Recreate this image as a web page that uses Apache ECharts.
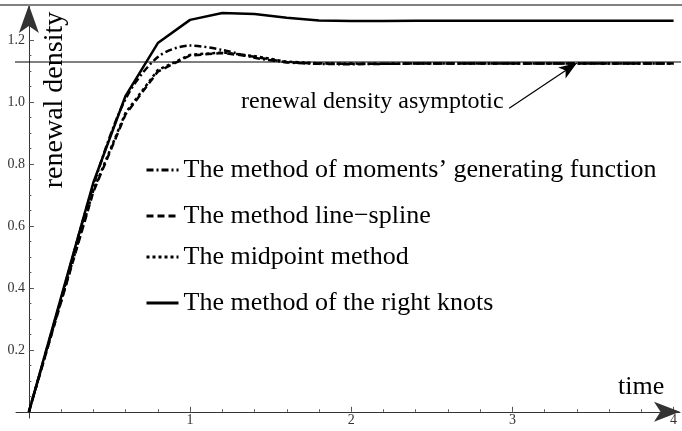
<!DOCTYPE html>
<html>
<head>
<meta charset="utf-8">
<script src="https://cdn.jsdelivr.net/npm/echarts@6/dist/echarts.min.js"></script>
<style>html,body{margin:0;padding:0;background:#fff}#c{width:682px;height:431px}</style>
</head>
<body>
<div id="c"></div>
<script>
// ---- data ----
const time = [0,0.2,0.4,0.6,0.8,1.0,1.2,1.4,1.6,1.8,2.0,2.2,2.4,2.6,2.8,3.0,3.2,3.4,3.6,3.8,4.0];
const momentsGF = [0,0.365,0.73,1.01,1.145,1.182,1.168,1.143,1.128,1.123,1.122,1.123,1.124,1.124,1.124,1.124,1.124,1.124,1.124,1.124,1.124];
const lineSpline = [0,0.355,0.71,0.96,1.098,1.15,1.158,1.146,1.128,1.124,1.123,1.123,1.124,1.124,1.124,1.124,1.124,1.124,1.124,1.124,1.124];
const midpoint = [0,0.358,0.715,0.965,1.103,1.152,1.16,1.148,1.13,1.125,1.124,1.123,1.124,1.124,1.124,1.124,1.124,1.124,1.124,1.124,1.124];
const rightKnots = [0,0.37,0.74,1.02,1.19,1.265,1.287,1.284,1.272,1.263,1.261,1.261,1.262,1.262,1.262,1.262,1.262,1.262,1.262,1.262,1.262];
const asymptote = 1.129;
const asymptoteSpan = [-0.2, 4.2];
const arrowFrom = [2.98, 0.98];
const arrowTo = [3.40, 1.126];
const xLabels = [1,2,3,4];
const xMinor = [0.2,0.4,0.6,0.8,1.2,1.4,1.6,1.8,2.2,2.4,2.6,2.8,3.2,3.4,3.6,3.8];
const yLabels = [0.2,0.4,0.6,0.8,1.0,1.2];
const yMinor = [0.05,0.1,0.15,0.25,0.3,0.35,0.45,0.5,0.55,0.65,0.7,0.75,0.85,0.9,0.95,1.05,1.1,1.15,1.25];
const names = ["The method of moments\u2019 generating function","The method line\u2212spline","The midpoint method","The method of the right knots"];

const FONT = "'Liberation Serif','Times New Roman',serif";
const pair = (xs, ys) => xs.map((x,i)=>[x, ys[i]]);

const chart = echarts.init(document.getElementById('c'), null, {renderer:'canvas'});
const X = {min:-0.08, max:4.04};
const Y = {min:-0.02, max:1.313};
const axisBase = {type:'value', splitLine:{show:false}, axisLine:{onZero:true}};
const AXIS_COLOR = '#333';

const legendTops = [152, 198, 239, 285];
const legends = names.map((n,i)=>({
  data:[n], left:140, top:legendTops[i], orient:'horizontal',
  itemWidth:32, itemHeight:14, itemGap:6,
  itemStyle:{opacity:0, borderWidth:0},
  lineStyle:{width:3},
  textStyle:{fontFamily:FONT, fontSize:26, color:'#000'},
  selectedMode:false
}));

const lineSeries = (name, data, type, idx) => ({
  name, type:'line', data: pair(time, data), symbol:'none', showSymbol:false,
  smooth: idx===0 ? 0.3 : false,
  lineStyle:{color:'#000', width:2.5, type:type},
  itemStyle:{color:'#000'}, z:3
});

chart.setOption({
  animation:false,
  backgroundColor:'#fff',
  grid:{left:16, right:2, top:5, bottom:13, containLabel:false, outerBoundsMode:'none'},
  legend: legends,
  xAxis:[
    Object.assign({}, axisBase, X, {
      axisLine:{onZero:true, lineStyle:{color:AXIS_COLOR, width:1}, symbol:['none','arrow'], symbolSize:[15,26]},
      axisTick:{show:true, inside:true, length:5, customValues:xLabels, lineStyle:{color:'#555'}},
      axisLabel:{customValues:xLabels, margin:-5, fontFamily:FONT, fontSize:14, color:'#333'}
    }),
    Object.assign({}, axisBase, X, {
      position:'bottom',
      axisLine:{show:false, onZero:true},
      axisTick:{show:true, inside:true, length:2.5, customValues:xMinor, lineStyle:{color:'#555'}},
      axisLabel:{show:false}
    })
  ],
  yAxis:[
    Object.assign({}, axisBase, Y, {
      axisLine:{onZero:true, lineStyle:{color:AXIS_COLOR, width:1}, symbol:['none','arrow'], symbolSize:[15,28]},
      axisTick:{show:true, inside:true, length:5, customValues:yLabels, lineStyle:{color:'#555'}},
      axisLabel:{customValues:yLabels, margin:-9, fontFamily:FONT, fontSize:14, color:'#333',
        formatter:v=>v.toFixed(1)}
    }),
    Object.assign({}, axisBase, Y, {
      position:'left',
      axisLine:{show:false, onZero:true},
      axisTick:{show:true, inside:true, length:2.5, customValues:yMinor, lineStyle:{color:'#555'}},
      axisLabel:{show:false}
    })
  ],
  series:[
    lineSeries(names[0], momentsGF, [7,3,2,3], 0),
    lineSeries(names[1], lineSpline, [7,4], 1),
    lineSeries(names[2], midpoint, [3,3], 2),
    lineSeries(names[3], rightKnots, 'solid', 3),
    {
      name:'asymptote', type:'line', clip:false, symbol:'none',
      data: asymptoteSpan.map(x=>[x, asymptote]),
      lineStyle:{color:'#000', width:1}, z:2,
      markLine:{
        silent:true, symbol:['none','arrow'], symbolSize:[10,18],
        label:{show:false}, lineStyle:{color:'#000', width:1.2, type:'solid'},
        data:[[{coord:arrowFrom},{coord:arrowTo}]]
      }
    }
  ],
  graphic:[
    {type:'line', shape:{x1:0,y1:5,x2:682,y2:5}, style:{stroke:'#808080', lineWidth:2}, z:10},
    {type:'text', x:55, y:100, rotation:Math.PI/2,
     style:{text:'renewal density', font:'28px '+FONT, fill:'#000', textAlign:'center', textVerticalAlign:'middle'}},
    {type:'text', x:618, y:374,
     style:{text:'time', font:'26px '+FONT, fill:'#000'}},
    {type:'text', x:241, y:90,
     style:{text:'renewal density asymptotic', font:'24px '+FONT, fill:'#000'}}
  ]
});
</script>
</body>
</html>
